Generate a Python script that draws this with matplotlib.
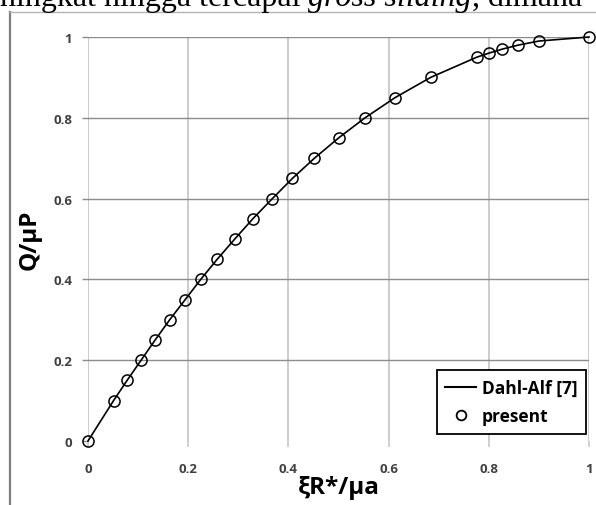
import matplotlib
matplotlib.use('Agg')
import matplotlib.pyplot as plt
from matplotlib.lines import Line2D

# values
q_ratio = [0.0, 0.10, 0.15, 0.20, 0.25, 0.30, 0.35, 0.40, 0.45, 0.50, 0.55, 0.60,
           0.65, 0.70, 0.75, 0.80, 0.85, 0.90, 0.95, 0.96, 0.97, 0.98, 0.99, 1.0]
xi_ratio = [0.0, 0.051, 0.078, 0.106, 0.134, 0.163, 0.194, 0.225, 0.258, 0.293, 0.329, 0.368,
            0.408, 0.452, 0.500, 0.553, 0.613, 0.684, 0.776, 0.800, 0.827, 0.859, 0.900, 1.0]
# Dahl-Alf curve runs through the same points
dahl_x = xi_ratio
dahl_y = q_ratio
x_ticks = [0, 0.2, 0.4, 0.6, 0.8, 1]
y_ticks = [0, 0.2, 0.4, 0.6, 0.8, 1]
tick_labels = ['0', '0.2', '0.4', '0.6', '0.8', '1']

FONT = ['Open Sans', 'DejaVu Sans']
W, H = 596, 506

fig = plt.figure(figsize=(W / 100, H / 100), dpi=100)
ax = fig.add_axes([88 / W, 64 / H, 501 / W, 404 / H])

# document text above the chart, cut by the top edge as in the source
base = 1 - 6 / H
txt = fig.text(0.0, base, 'hingkat hingga tercapai ', fontsize=23,
               family='Liberation Serif', va='baseline')
fig.canvas.draw()
bb = txt.get_window_extent()
t2 = fig.text(bb.x1 / W, base, 'gross sliding', fontsize=23, style='italic',
              family='Liberation Serif', va='baseline')
bb = t2.get_window_extent()
fig.text(bb.x1 / W, base, ', dimana', fontsize=23,
         family='Liberation Serif', va='baseline')

# chart frame (left + top edges; the rest is off-picture)
fig.add_artist(Line2D([10 / W, 10 / W], [0, 1 - 13 / H], color='#7f7f7f', lw=1.6))
fig.add_artist(Line2D([10 / W, 1], [1 - 13 / H, 1 - 13 / H], color='#b4b4b4', lw=1.0))

ax.plot(dahl_x, dahl_y, color='black', lw=1.2, zorder=3, clip_on=False)
ax.plot(xi_ratio, q_ratio, ls='none', marker='o', ms=8, mfc='none', mec='black',
        mew=1.1, zorder=4, clip_on=False)

ax.set_xlim(0, 1)
ax.set_ylim(0, 1)
for s in ax.spines.values():
    s.set_visible(False)
ax.set_xticks(x_ticks)
ax.set_yticks(y_ticks)
ax.set_xticklabels(tick_labels, fontsize=9.5, fontweight='bold', color='#404040', family=FONT)
ax.set_yticklabels(tick_labels, fontsize=9.5, fontweight='bold', color='#404040', family=FONT)
ax.tick_params(axis='x', length=4, width=1.2, color='#c8c8c8', pad=11)
ax.tick_params(axis='y', length=4.5, width=1.0, color='#8c8c8c', pad=7)
for xv in x_ticks:
    ax.axvline(xv, color='#c8c8c8', lw=1.3, zorder=1)
for yv in y_ticks[1:]:
    ax.axhline(yv, color='#8c8c8c', lw=1.0, zorder=1)

ax.set_xlabel('ξR*/μa', fontsize=17.5, fontweight='bold', family=FONT, labelpad=0)
ax.set_ylabel('Q/μP', fontsize=17.5, fontweight='bold', family=FONT, labelpad=8)

handles = [Line2D([], [], color='black', lw=1.5),
           Line2D([], [], ls='none', marker='o', ms=7, mfc='none', mec='black', mew=1.3)]
leg = ax.legend(handles, ['Dahl-Alf [7]', 'present'], loc='lower right',
                bbox_to_anchor=(586 / W, 71 / H), bbox_transform=fig.transFigure,
                prop={'family': FONT, 'weight': 'bold', 'size': 12.5},
                fancybox=False, framealpha=1, edgecolor='black', handlelength=1.8,
                handletextpad=0.3, borderpad=0.5, labelspacing=0.6, borderaxespad=0)
leg.get_frame().set_linewidth(1.3)

fig.savefig('out.png', dpi=100)
